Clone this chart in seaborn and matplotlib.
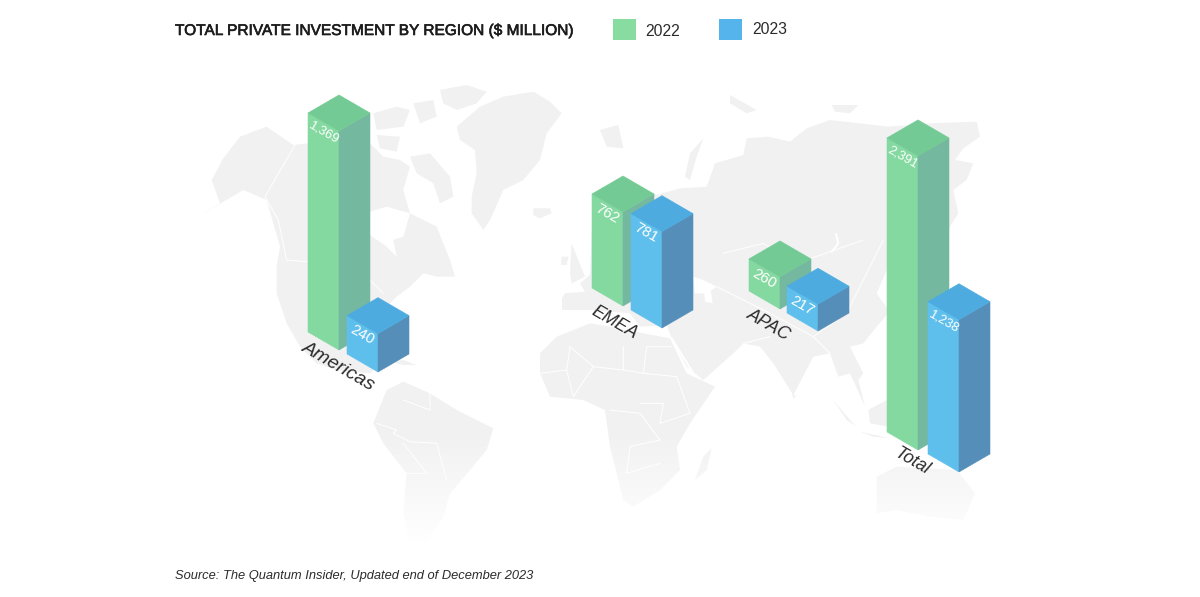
import numpy as np
import pandas as pd
import matplotlib
matplotlib.use("Agg")
import matplotlib.pyplot as plt
import matplotlib.patheffects as pe
from matplotlib.patches import Rectangle
import seaborn as sns

sns.set_theme(style="white")
plt.rcParams['font.family'] = ['Liberation Sans', 'DejaVu Sans']

# data
regions = ["Americas", "EMEA", "APAC", "Total"]
invest_2022 = [1369, 762, 260, 2391]
invest_2023 = [240, 781, 217, 1238]
years = ["2022", "2023"]

# px per $ million, the Americas group is drawn taller in the original
px_per_musd = [0.160, 0.1234, 0.1234, 0.1230]

# ground point of the front corner of each bar (page pixels)
base_2022 = [(339, 350), (623, 306), (780, 309), (918, 450)]
base_2023 = [(378, 372), (662, 328), (818, 331), (959, 472)]
label_pos = [(338, 366), (615, 323), (769, 325), (912, 462)]
HALF_W, HALF_D = 31, 18

# front, side, top
face_2022 = sns.color_palette(["#84d9a0", "#74b8a0", "#74ca94"])
face_2023 = sns.color_palette(["#5fbfec", "#558eb9", "#4dabe0"])

df = pd.DataFrame({"region": regions, "2022": invest_2022, "2023": invest_2023, "scale": px_per_musd})

CROP_W = (170, 80)
CROP_E = (530, 80)
land_west = [
    # north america
    [(85, 410), (150, 370), (125, 300), (160, 235), (210, 170), (290, 140), (370, 195), (415, 190), (600, 190),
     (640, 230), (690, 240), (720, 260), (700, 330), (720, 400), (800, 440), (840, 540), (855, 590), (800, 590),
     (760, 580), (720, 620), (680, 650), (640, 690), (600, 740), (620, 860), (600, 880), (500, 870), (440, 850),
     (390, 800), (350, 730), (320, 640), (320, 560), (330, 500), (290, 360), (220, 330)],
    # arctic islands
    [(720, 230), (780, 220), (840, 290), (850, 350), (810, 370), (790, 310), (740, 280)],
    [(810, 30), (890, 15), (950, 35), (920, 70), (860, 90), (820, 70)],
    [(610, 100), (680, 80), (720, 90), (700, 140), (620, 150)],
    [(730, 70), (790, 60), (800, 110), (750, 130)],
    [(620, 165), (690, 170), (680, 215), (630, 205)],
    # greenland, iceland
    [(860, 140), (930, 80), (1000, 50), (1090, 35), (1140, 65), (1175, 100), (1130, 160), (1110, 240), (1060, 300),
     (1000, 330), (960, 420), (940, 450), (905, 400), (905, 350), (920, 280), (915, 210), (870, 180)],
    [(1090, 385), (1140, 385), (1145, 400), (1110, 415), (1090, 405)],
    # cuba
    [(660, 845), (700, 840), (740, 855), (700, 855)],
    # south america
    [(650, 930), (700, 905), (780, 940), (860, 990), (970, 1045), (950, 1110), (900, 1170), (840, 1240), (820, 1310),
     (770, 1380), (720, 1390), (700, 1300), (710, 1180), (640, 1090), (610, 1030)],
]
land_east = [
    # eurasia
    [(96, 655), (105, 640), (165, 635), (150, 610), (180, 585), (190, 340), (280, 300), (380, 345), (450, 325),
     (530, 320), (555, 250), (640, 225), (650, 175), (715, 170), (780, 185), (830, 145), (900, 120), (1075, 140),
     (1200, 130), (1340, 125), (1350, 170), (1300, 205), (1275, 240), (1330, 250), (1310, 300), (1270, 330),
     (1285, 400), (1260, 440), (1250, 480), (1075, 560), (1040, 640), (1075, 690), (1075, 700), (1040, 740),
     (1000, 790), (960, 800), (1000, 880), (985, 900), (1005, 980), (960, 880), (925, 890), (900, 820), (850, 830),
     (790, 945), (730, 850), (690, 800), (640, 790), (610, 820), (520, 900), (470, 860), (425, 775), (410, 735),
     (330, 740), (300, 700), (190, 690), (130, 690), (96, 690)],
    # uk, ireland
    [(125, 490), (145, 540), (165, 590), (125, 610), (120, 580)],
    [(95, 530), (115, 530), (110, 555), (92, 555)],
    # russian arctic
    [(520, 175), (480, 220), (465, 290), (480, 300), (500, 230)],
    [(210, 150), (265, 135), (280, 205), (230, 200)],
    [(600, 45), (680, 90), (650, 100), (600, 70)],
    [(905, 75), (985, 75), (960, 100), (915, 95)],
    # africa
    [(30, 820), (80, 770), (180, 730), (240, 740), (340, 760), (420, 775), (470, 880), (555, 920), (480, 1030),
     (440, 1100), (450, 1170), (390, 1230), (310, 1280), (280, 1260), (240, 1100), (225, 990), (160, 960), (60, 950),
     (30, 880)],
    [(520, 1130), (545, 1105), (530, 1170), (495, 1200)],
    # sri lanka, indonesia
    [(785, 935), (798, 950), (790, 955)],
    [(910, 960), (960, 1020), (980, 1040), (950, 1020)],
    [(990, 1055), (1080, 1075), (1030, 1070)],
    [(1015, 990), (1070, 960), (1075, 1040), (1020, 1030)],
    # australia
    [(1040, 1190), (1100, 1160), (1280, 1170), (1335, 1240), (1300, 1320), (1200, 1310), (1100, 1290), (1040, 1300)],
]
water_west = [
    [(600, 395), (650, 380), (720, 400), (700, 470), (670, 480), (680, 530), (650, 500), (600, 465)],
]
water_east = [
    [(490, 590), (520, 600), (560, 620), (530, 640), (495, 640)],
    [(520, 610), (540, 615), (548, 670), (525, 665)],
]
borders_west = [
    [(375, 195), (285, 350), (325, 420), (350, 540), (410, 545)],
    [(600, 600), (640, 640)],
    [(620, 1030), (680, 1050), (670, 1060), (720, 1085), (800, 1090), (830, 1200)],
    [(700, 1090), (770, 1180), (710, 1180)],
    [(700, 960), (780, 990), (780, 940)],
]
borders_east = [
    [(30, 880), (110, 870), (120, 800), (190, 860), (280, 870), (280, 800)],
    [(110, 870), (130, 950), (190, 860)],
    [(280, 870), (340, 880), (350, 800), (425, 800)],
    [(340, 880), (440, 890), (480, 1000), (390, 1030), (400, 970), (330, 970)],
    [(240, 990), (330, 1000), (390, 1080), (300, 1100), (290, 1180), (390, 1150)],
    [(560, 620), (640, 660), (720, 700), (850, 770), (950, 700), (1060, 480)],
    [(580, 520), (700, 490), (800, 550), (1000, 480)],
    [(850, 770), (900, 820)],
    [(640, 790), (720, 770)],
]
rivers_east = [
    [(905, 515), (925, 490), (918, 462)],
    [(425, 775), (490, 880)],
]


def to_page(pts, crop):
    return [(x / 3 + crop[0], y / 3 + crop[1]) for x, y in pts]


def draw_bar(ax, x, y, h, faces):
    # front corner on the ground is (x, y), the box is seen from the isometric corner
    ax.fill([x - HALF_W, x, x, x - HALF_W], [y - HALF_D, y, y - h, y - h - HALF_D],
            color=faces[0], lw=0.4, zorder=3)
    ax.fill([x, x + HALF_W, x + HALF_W, x], [y, y - HALF_D, y - h - HALF_D, y - h],
            color=faces[1], lw=0.4, zorder=3)
    ax.fill([x, x + HALF_W, x, x - HALF_W], [y - h, y - h - HALF_D, y - h - 2 * HALF_D, y - h - HALF_D],
            color=faces[2], lw=0.4, zorder=3)


fig = plt.figure(figsize=(12, 5.97), dpi=100)
ax = fig.add_axes([0, 0, 1, 1])
ax.set_xlim(0, 1200)
ax.set_ylim(597, 0)
ax.set_aspect("auto")
sns.despine(ax=ax, left=True, bottom=True)
ax.set_xticks([])
ax.set_yticks([])

for crop, land, water, borders in [(CROP_W, land_west, water_west, borders_west),
                                   (CROP_E, land_east, water_east, borders_east)]:
    for pts in land:
        xs, ys = zip(*to_page(pts, crop))
        ax.fill(xs, ys, color="#f1f1f2", lw=0, zorder=1)
    for pts in water:
        xs, ys = zip(*to_page(pts, crop))
        ax.fill(xs, ys, color="white", lw=0, zorder=1.1)
    for pts in borders:
        xs, ys = zip(*to_page(pts, crop))
        ax.plot(xs, ys, color="white", lw=0.7, zorder=1.2)
for pts in rivers_east:
    xs, ys = zip(*to_page(pts, CROP_E))
    ax.plot(xs, ys, color="white", lw=1.5, zorder=1.2)

# map fades out to the bottom
fade = np.zeros((200, 2, 4))
fade[:, :, :3] = 1
fade[:, :, 3] = np.linspace(0, 1, 200)[:, None]
ax.imshow(fade, extent=(0, 1200, 545, 430), aspect="auto", zorder=2, interpolation="bilinear")
ax.set_xlim(0, 1200)
ax.set_ylim(597, 0)

for i, row in df.iterrows():
    for yr, bases, faces in [("2022", base_2022, face_2022), ("2023", base_2023, face_2023)]:
        x, y = bases[i]
        h = row[yr] * row["scale"]
        draw_bar(ax, x, y, h, faces)
        # value sits on the upper end of the front left face
        size = 9.4 if row[yr] >= 1000 else 10.8
        ax.text(x - HALF_W + 15.5, y - h - HALF_D + 19.5, f"{row[yr]:,}", color="white", fontsize=size,
                rotation=-30, rotation_mode="anchor", ha="center", va="center", zorder=4)
    lx, ly = label_pos[i]
    fsize = 14 if row["region"] == "Americas" else 12.8
    ax.text(lx, ly, row["region"], color="#2b2b2b", fontsize=fsize, style="italic", rotation=-30,
            rotation_mode="anchor", ha="center", va="center", zorder=4)

# header
ax.text(175, 31, "TOTAL PRIVATE INVESTMENT BY REGION ($ MILLION)", color="#1c1c1c", fontsize=11.12,
        ha="left", va="center", zorder=4,
        path_effects=[pe.withStroke(linewidth=0.45, foreground="#1c1c1c")])
for yr, sx, tx, ty, c in zip(years, [613, 719], [663, 770], [31, 29], ["#88dca0", "#55b4ec"]):
    ax.add_patch(Rectangle((sx, 19), 23, 21, color=c, lw=0, zorder=4))
    ax.text(tx, ty, yr, color="#2b2b2b", fontsize=11.3, ha="center", va="center", zorder=4)

ax.text(175, 576, "Source: The Quantum Insider, Updated end of December 2023", color="#2b2b2b", fontsize=9.25,
        style="italic", ha="left", va="center", zorder=4)

fig.savefig("out.png", dpi=100, facecolor="white")
